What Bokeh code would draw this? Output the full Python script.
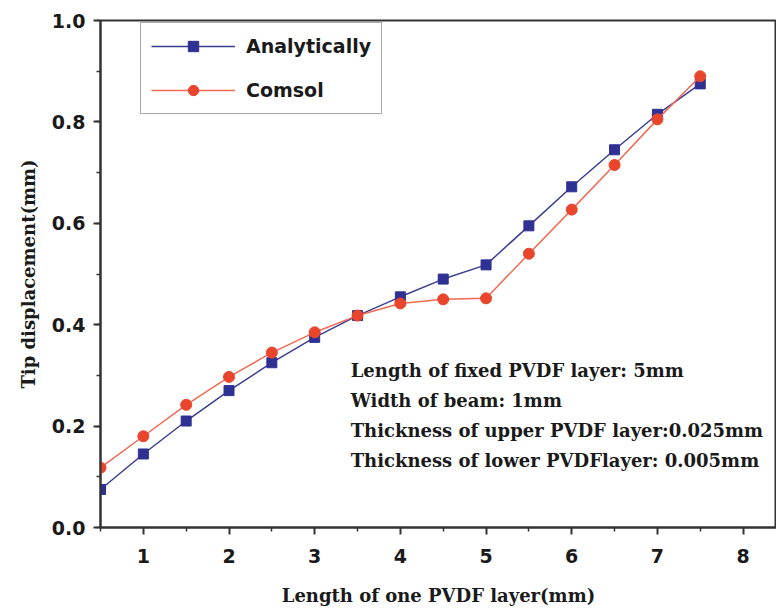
from bokeh.plotting import figure
from bokeh.models import (Range1d, FixedTicker, SingleIntervalTicker, Legend, LegendItem, Label,
                          CustomJSTickFormatter)
from bokeh.embed import file_html
from bokeh.resources import INLINE

length_mm = [0.5, 1.0, 1.5, 2.0, 2.5, 3.0, 3.5, 4.0, 4.5, 5.0, 5.5, 6.0, 6.5, 7.0, 7.5]
analytically = [0.075, 0.145, 0.210, 0.270, 0.325, 0.375, 0.418, 0.455, 0.490, 0.518,
                0.595, 0.672, 0.745, 0.815, 0.875]
comsol = [0.118, 0.180, 0.242, 0.297, 0.345, 0.385, 0.418, 0.442, 0.450, 0.452,
          0.540, 0.627, 0.715, 0.805, 0.890]
x_ticks = [1, 2, 3, 4, 5, 6, 7, 8]
x_minor = [0.5, 1.5, 2.5, 3.5, 4.5, 5.5, 6.5, 7.5]
notes = ["Length of fixed PVDF layer: 5mm",
         "Width of beam: 1mm",
         "Thickness of upper PVDF layer:0.025mm",
         "Thickness of lower PVDFlayer: 0.005mm"]

p = figure(width=776, height=612, output_backend="svg", toolbar_location=None,
           x_range=Range1d(0.5, 8.39), y_range=Range1d(0.0, 1.0),
           min_border_left=100, min_border_right=0, min_border_top=20, min_border_bottom=85)
p.background_fill_color = "white"
p.border_fill_color = "white"
p.grid.visible = False
p.outline_line_color = "#333333"
p.outline_line_width = 2

blue = "#2e3192"
red = "#e8452c"

l1 = p.line(length_mm, analytically, line_color="#3b3f8f", line_width=1.5)
s1 = p.scatter(length_mm, analytically, marker="square", size=10, fill_color=blue, line_color=blue)
l2 = p.line(length_mm, comsol, line_color="#ef6a55", line_width=1.5)
s2 = p.scatter(length_mm, comsol, marker="circle", size=11, fill_color=red, line_color=red)

legend = Legend(items=[LegendItem(label="Analytically", renderers=[l1, s1]),
                       LegendItem(label="Comsol", renderers=[l2, s2])],
                location=(40, 413), padding=10, spacing=18, glyph_height=26, glyph_width=84,
                label_height=26,
                label_standoff=11, label_text_font="DejaVu Sans", label_text_font_style="bold",
                label_text_font_size="19px", label_text_color="#1a1a1a",
                border_line_color="#555555", border_line_width=1.5, margin=0,
                background_fill_alpha=1.0)
p.add_layout(legend)

p.xaxis.ticker = FixedTicker(ticks=x_ticks, minor_ticks=x_minor)
p.yaxis.ticker = SingleIntervalTicker(interval=0.2, num_minor_ticks=2)
p.yaxis.formatter = CustomJSTickFormatter(code="return tick.toFixed(1);")

for ax in (p.xaxis, p.yaxis):
    ax.axis_line_width = 2
    ax.axis_line_color = "#333333"
    ax.major_tick_line_width = 2
    ax.major_tick_line_color = "#333333"
    ax.minor_tick_line_width = 1.5
    ax.minor_tick_line_color = "#333333"
    ax.major_tick_out = 7
    ax.major_tick_in = 0
    ax.minor_tick_out = 4
    ax.minor_tick_in = 0
    ax.major_label_text_font = "DejaVu Sans"
    ax.major_label_text_font_style = "bold"
    ax.major_label_text_font_size = "19px"
    ax.major_label_text_color = "#1a1a1a"
    ax.axis_label_text_font = "DejaVu Serif"
    ax.axis_label_text_font_style = "bold"
    ax.axis_label_text_font_size = "18px"
    ax.axis_label_text_color = "#1a1a1a"

p.xaxis.axis_label = "Length of one PVDF layer(mm)"
p.yaxis.axis_label = "Tip displacement(mm)"
p.xaxis.major_label_standoff = 14
p.xaxis.axis_label_standoff = 19
p.yaxis.major_label_standoff = 8
p.yaxis.axis_label_standoff = 10

note_y = [0.31, 0.251, 0.192, 0.133]
for txt, yy in zip(notes, note_y):
    p.add_layout(Label(x=3.42, y=yy, text=txt, text_font="DejaVu Serif",
                       text_font_style="bold", text_font_size="18px",
                       text_color="#1a1a1a", text_baseline="middle"))

open("out.html", "w").write(file_html(p, INLINE))
